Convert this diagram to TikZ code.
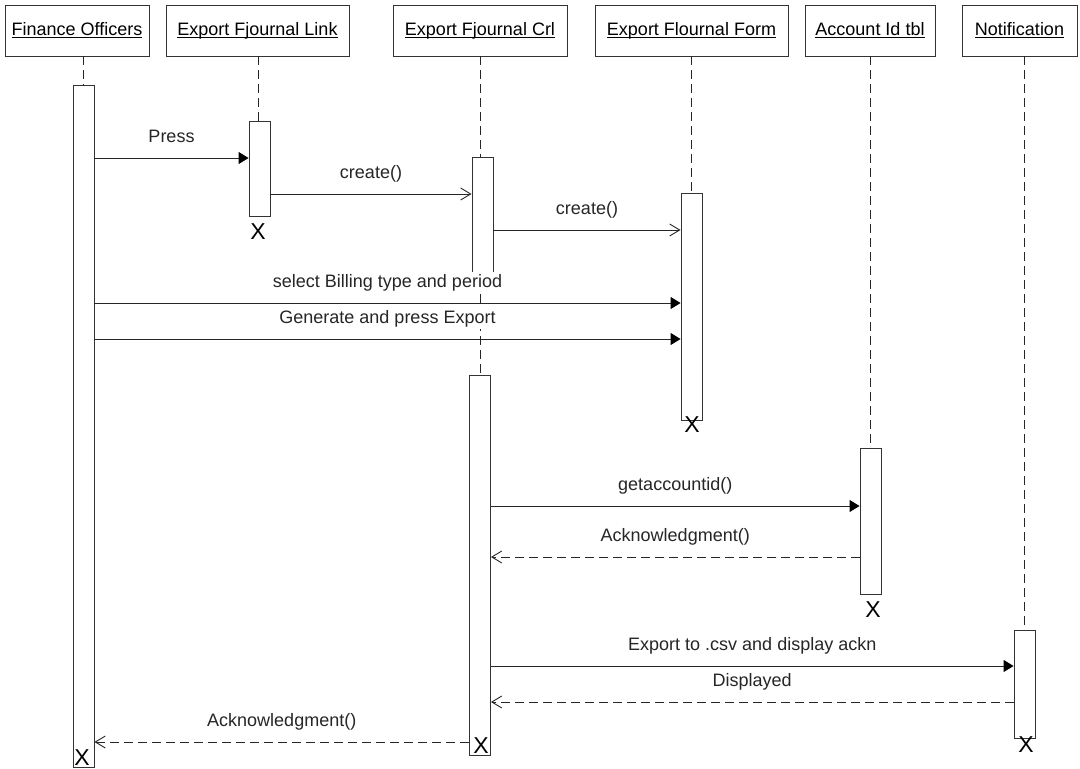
\documentclass[tikz,border=0pt]{standalone}
\usepackage{fontspec}
\setmainfont{Liberation Sans}
\usetikzlibrary{arrows.meta}

% underlined object name in the header boxes
\newsavebox{\hdrbox}
\newcommand{\hdrtxt}[1]{\sbox\hdrbox{#1}\rlap{\rule[-2.6pt]{\wd\hdrbox}{0.9pt}}\usebox\hdrbox}

\begin{document}
\begin{tikzpicture}[x=1pt, y=-1pt,
  font=\fontsize{18}{21}\selectfont,
  objbox/.style={draw=black!80, line width=0.9pt, minimum height=51pt, inner sep=0pt},
  actbar/.style={draw=black!80, line width=0.9pt, fill=white, minimum width=21pt, inner sep=0pt, anchor=north},
  lifeln/.style={black!85, line width=0.9pt, dash pattern=on 9pt off 5pt},
  syncmsg/.style={black!85, line width=0.9pt, -{Triangle[length=10pt, width=12pt, color=black]}},
  openmsg/.style={black!85, line width=0.9pt, -{Straight Barb[length=10pt, width=12pt]}},
  retmsg/.style={openmsg, dash pattern=on 9pt off 5pt},
  msglbl/.style={midway, anchor=base, yshift=15.5pt, fill=white, inner sep=2pt},
  endmark/.style={font=\fontsize{23}{23}\selectfont, inner sep=0pt}]

  \useasboundingbox (0,0) rectangle (1080,769);

  % --- 1. objects ---
  \node[objbox, minimum width=144pt] (fin) at (77,30.5)   {\hdrtxt{Finance Officers}};
  \node[objbox, minimum width=183pt] (lnk) at (257.5,30.5) {\hdrtxt{Export Fjournal Link}};
  \node[objbox, minimum width=174pt] (crl) at (480,30.5)  {\hdrtxt{Export Fjournal Crl}};
  \node[objbox, minimum width=193pt] (frm) at (691.5,30.5) {\hdrtxt{Export Flournal Form}};
  \node[objbox, minimum width=130pt] (acc) at (870,30.5)  {\hdrtxt{Account Id tbl}};
  \node[objbox, minimum width=115pt] (ntf) at (1019.5,30.5) {\hdrtxt{Notification}};

  % --- 2. lifelines (dashed, from the box down to the activation) ---
  \coordinate (finL) at (83.5,85);
  \coordinate (lnkL) at (258,121);
  \coordinate (crlL) at (480,375);
  \coordinate (frmL) at (691.5,193);
  \coordinate (accL) at (870.5,448);
  \coordinate (ntfL) at (1024.5,630);

  \draw[lifeln] (fin.south -| finL) -- (finL);
  \draw[lifeln] (lnk.south -| lnkL) -- (lnkL);
  \draw[lifeln] (crl.south -| crlL) -- (crlL);
  \draw[lifeln] (frm.south -| frmL) -- (frmL);
  \draw[lifeln] (acc.south -| accL) -- (accL);
  \draw[lifeln] (ntf.south -| ntfL) -- (ntfL);

  % --- 3. activation bars ---
  \node[actbar, minimum height=682pt] (finA) at (83.5,85)   {};
  \node[actbar, minimum height=95pt]  (lnkA) at (259.5,121) {};
  \node[actbar, minimum height=125pt] (crlA) at (482.5,157) {};
  \node[actbar, minimum height=380pt] (crlB) at (480,375)   {};
  \node[actbar, minimum height=227pt] (frmA) at (691.5,193) {};
  \node[actbar, minimum height=146pt] (accA) at (870.5,448) {};
  \node[actbar, minimum height=108pt] (ntfA) at (1024.5,630) {};

  % --- 4. messages ---
  \draw[syncmsg] (finA.east |- 0,158) -- (lnkA.west |- 0,158) node[msglbl] {Press};
  \draw[openmsg] (lnkA.east |- 0,194) -- (crlA.west |- 0,194) node[msglbl] {create()};
  \draw[openmsg] (crlA.east |- 0,230) -- (frmA.west |- 0,230) node[msglbl] {create()};
  \draw[syncmsg] (finA.east |- 0,303) -- (frmA.west |- 0,303) node[msglbl] {select Billing type and period};
  \draw[syncmsg] (finA.east |- 0,339) -- (frmA.west |- 0,339) node[msglbl] {Generate and press Export};
  \draw[syncmsg] (crlB.east |- 0,506) -- (accA.west |- 0,506) node[msglbl] {getaccountid()};
  \draw[retmsg]  (accA.west |- 0,557) -- (crlB.east |- 0,557) node[msglbl] {Acknowledgment()};
  \draw[syncmsg] (crlB.east |- 0,666) -- (ntfA.west |- 0,666) node[msglbl] {Export to .csv and display ackn};
  \draw[retmsg]  (ntfA.west |- 0,702) -- (crlB.east |- 0,702) node[msglbl] {Displayed};
  \draw[retmsg]  (crlB.west |- 0,742) -- (finA.east |- 0,742) node[msglbl] {Acknowledgment()};

  % --- 5. destruction marks ---
  \node[endmark] (lnkX) at (258,232)  {X};
  \node[endmark] (frmX) at (692,425)  {X};
  \node[endmark] (accX) at (873,610)  {X};
  \node[endmark] (ntfX) at (1026,745) {X};
  \node[endmark] (crlX) at (481,746)  {X};
  \node[endmark] (finX) at (82,758)   {X};

\end{tikzpicture}
\end{document}
